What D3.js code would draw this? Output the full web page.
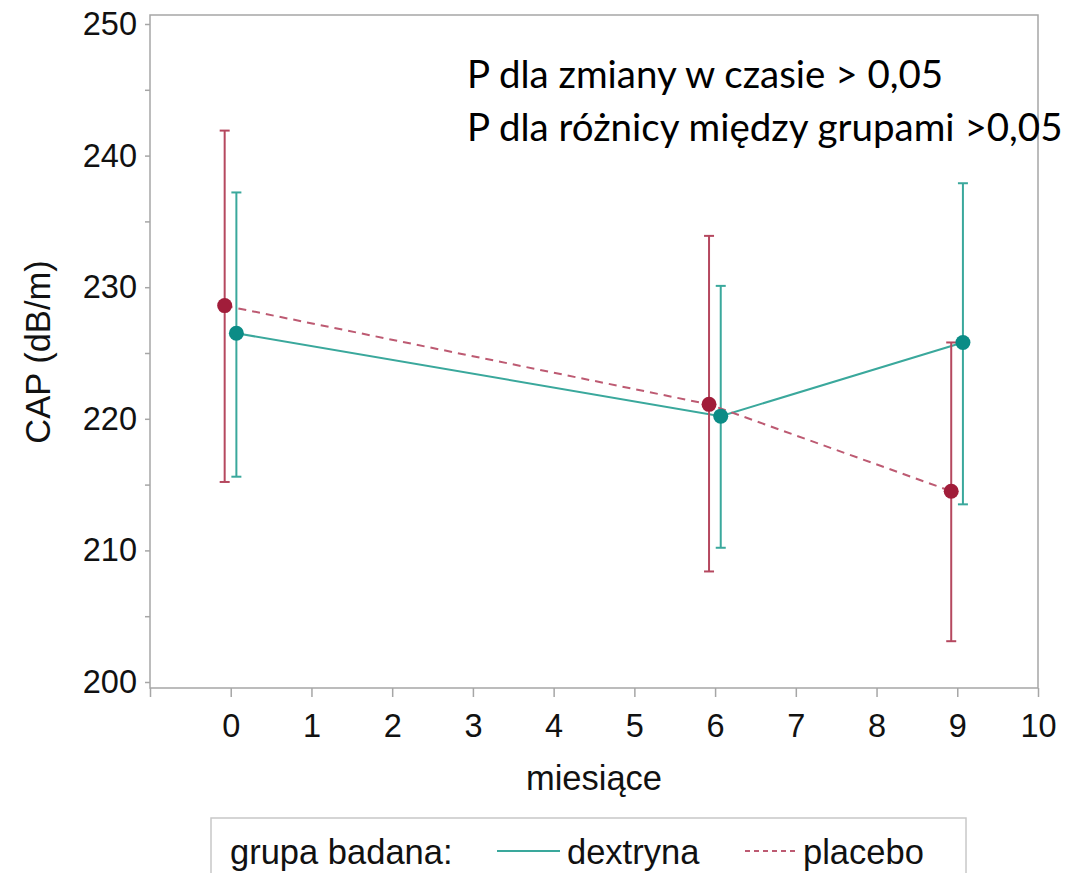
<!DOCTYPE html>
<html><head><meta charset="utf-8">
<script src="https://cdn.jsdelivr.net/npm/d3@7"></script>
<style>body{margin:0;background:#fff}svg{display:block}</style>
</head><body>
<script>
const months = [0, 6, 9];
const xTicks = [-1,0,1,2,3,4,5,6,7,8,9,10];
const yTicks = [200,210,220,230,240,250];
const yMinorTicks = [205,215,225,235,245];
const dextrynaMean = [226.5, 220.2, 225.8];
const dextrynaLow  = [215.6, 210.2, 213.5];
const dextrynaHigh = [237.2, 230.1, 237.9];
const placeboMean  = [228.6, 221.1, 214.5];
const placeboLow   = [215.2, 208.4, 203.1];
const placeboHigh  = [241.9, 233.9, 225.8];
const groups = ["dextryna", "placebo"];

const W = 1080, H = 873;
const svg = d3.select("body").append("svg").attr("width", W).attr("height", H);
const axisFont = "'Liberation Sans', Arial, sans-serif";
const gray = "#a6a6a6";

const x = d3.scaleLinear().domain([-1, 10]).range([150, 1038]);
const y = d3.scaleLinear().domain([200, 250]).range([682, 24]);
const frameTop = 15, frameBottom = 688;

// frame
svg.append("rect").attr("x", 150).attr("y", frameTop).attr("width", 1038-150).attr("height", frameBottom-frameTop)
  .attr("fill", "none").attr("stroke", gray).attr("stroke-width", 1.5);

// x axis
const xAxis = d3.axisBottom(x).tickValues(xTicks).tickSize(9).tickPadding(17)
  .tickFormat(d => d < 0 ? "" : d3.format("d")(d));
const gx = svg.append("g").attr("transform", `translate(0,${frameBottom})`).call(xAxis);
gx.select(".domain").remove();
gx.selectAll(".tick line").attr("stroke", gray).attr("stroke-width", 1.5);
gx.selectAll(".tick text").attr("font-family", axisFont).attr("font-size", 32.5).attr("fill", "#111");

// y axis
const yAxis = d3.axisLeft(y).tickValues(yTicks).tickSize(5).tickPadding(8).tickFormat(d3.format("d"));
const gy = svg.append("g").attr("transform", `translate(150,0)`).call(yAxis);
gy.select(".domain").remove();
gy.selectAll(".tick line").attr("stroke", gray).attr("stroke-width", 1.5);
gy.selectAll(".tick text").attr("font-family", axisFont).attr("font-size", 32.5).attr("fill", "#111");
const gym = svg.append("g").attr("transform", `translate(150,0)`)
  .call(d3.axisLeft(y).tickValues(yMinorTicks).tickSize(5).tickFormat(""));
gym.select(".domain").remove();
gym.selectAll(".tick line").attr("stroke", gray).attr("stroke-width", 1.5);

// axis labels
svg.append("text").attr("x", 594).attr("y", 790).attr("text-anchor", "middle")
  .attr("font-family", axisFont).attr("font-size", 34.5).attr("fill", "#111").text("miesiące");
svg.append("text").attr("transform", "translate(50,352) rotate(-90)").attr("text-anchor", "middle")
  .attr("font-family", axisFont).attr("font-size", 34.5).attr("fill", "#111").text("CAP (dB/m)");

// series
const series = [
  {name: "dextryna", mean: dextrynaMean, low: dextrynaLow, high: dextrynaHigh, off: 0.07,
   line: "#3aa89c", marker: "#0b8c86", bar: "#3aa89c", dash: null},
  {name: "placebo", mean: placeboMean, low: placeboLow, high: placeboHigh, off: -0.075,
   line: "#bd5a72", marker: "#a11d3a", bar: "#b5485f", dash: "8,6"}
];

series.forEach(s => {
  const pts = months.map((m, i) => ({x: m + s.off, m: s.mean[i], lo: s.low[i], hi: s.high[i]}));
  const g = svg.append("g");
  g.selectAll("line.eb").data(pts).join("line")
    .attr("x1", d => x(d.x)).attr("x2", d => x(d.x)).attr("y1", d => y(d.lo)).attr("y2", d => y(d.hi))
    .attr("stroke", s.bar).attr("stroke-width", 2);
  ["lo","hi"].forEach(k => {
    g.selectAll("line.cap"+k).data(pts).join("line")
      .attr("x1", d => x(d.x)-5).attr("x2", d => x(d.x)+5).attr("y1", d => y(d[k])).attr("y2", d => y(d[k]))
      .attr("stroke", s.bar).attr("stroke-width", 2);
  });
  g.append("path").datum(pts)
    .attr("d", d3.line().x(d => x(d.x)).y(d => y(d.m)))
    .attr("fill", "none").attr("stroke", s.line).attr("stroke-width", 2)
    .attr("stroke-dasharray", s.dash);
});
series.forEach(s => {
  svg.append("g").selectAll("circle").data(months.map((m, i) => ({x: m + s.off, m: s.mean[i]}))).join("circle")
    .attr("cx", d => x(d.x)).attr("cy", d => y(d.m)).attr("r", 7.5).attr("fill", s.marker);
});

// legend
svg.append("rect").attr("x", 211).attr("y", 818).attr("width", 755).attr("height", 70)
  .attr("fill", "#fff").attr("stroke", "#c8c8c8").attr("stroke-width", 1.5);
const ly = 864;
const lf = 34.5;
svg.append("text").attr("x", 230).attr("y", ly).attr("font-family", axisFont).attr("font-size", lf)
  .attr("fill", "#111").text("grupa badana:");
svg.append("line").attr("x1", 497).attr("x2", 560).attr("y1", 851).attr("y2", 851)
  .attr("stroke", series[0].line).attr("stroke-width", 2);
svg.append("text").attr("x", 567).attr("y", ly).attr("font-family", axisFont).attr("font-size", lf)
  .attr("fill", "#111").text(groups[0]);
svg.append("line").attr("x1", 745).attr("x2", 797).attr("y1", 851).attr("y2", 851)
  .attr("stroke", series[1].line).attr("stroke-width", 2).attr("stroke-dasharray", "5,4");
svg.append("text").attr("x", 803).attr("y", ly).attr("font-family", axisFont).attr("font-size", lf)
  .attr("fill", "#111").text(groups[1]);

// annotation
const annFont = "Lato, 'Open Sans', sans-serif";
svg.append("text").attr("x", 467).attr("y", 88).attr("font-family", annFont).attr("font-size", 38.5)
  .attr("fill", "#000").text("P dla zmiany w czasie > 0,05");
svg.append("text").attr("x", 467).attr("y", 141).attr("font-family", annFont).attr("font-size", 38.5)
  .attr("fill", "#000").text("P dla różnicy między grupami >0,05");
</script>
</body></html>
